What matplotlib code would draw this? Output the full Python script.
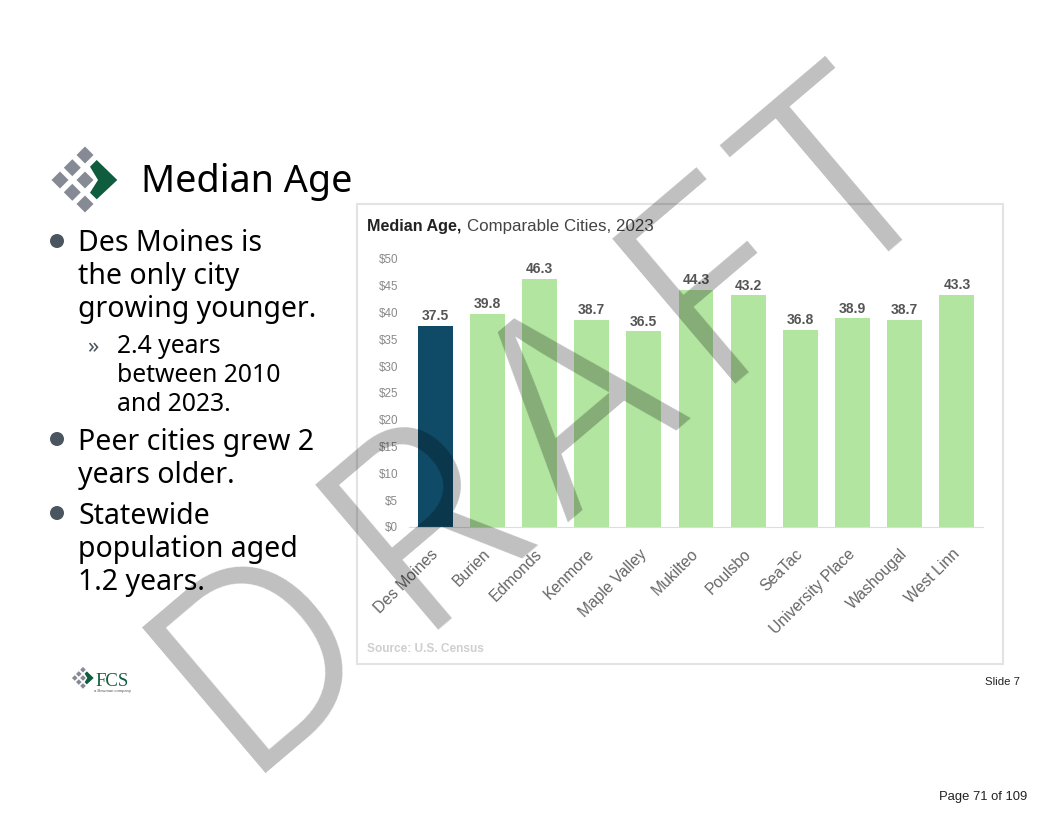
import matplotlib
matplotlib.use('Agg')
import matplotlib.pyplot as plt
from matplotlib.patches import Polygon, Rectangle, Circle
from matplotlib.transforms import ScaledTranslation

W = 1056
H = 816

cities = ['Des Moines', 'Burien', 'Edmonds', 'Kenmore', 'Maple Valley', 'Mukilteo',
          'Poulsbo', 'SeaTac', 'University Place', 'Washougal', 'West Linn']
median_age = [37.5, 39.8, 46.3, 38.7, 36.5, 44.3, 43.2, 36.8, 38.9, 38.7, 43.3]
y_ticks = [0, 5, 10, 15, 20, 25, 30, 35, 40, 45, 50]
y_labels = ['$%d' % t for t in y_ticks]

bullets = [(78, 251, 'Des Moines is'), (78, 284, 'the only city'), (78, 317, 'growing younger.'),
           (78, 450, 'Peer cities grew 2'), (78, 483, 'years older.'),
           (78, 524, 'Statewide'), (78, 557, 'population aged'), (78, 590, '1.2 years.')]
sub_bullets = [(117, 353, '2.4 years'), (117, 382, 'between 2010'), (117, 411, 'and 2023.')]
bullet_dots = [241, 439, 513]
# watermark letters and where each one starts
draft_letters = [('D', 241, 773), ('R', 414, 630), ('A', 561, 522), ('F', 711, 384), ('T', 829, 291)]

LEFT_FONT = 'Noto Sans'
CHART_FONT = 'Liberation Sans'
GREEN = '#b2e5a0'
NAVY = '#0f4a66'
LOGO_GREY = '#868a94'
LOGO_GREEN = '#0f5c3f'


def drawLogo(ax, ox, oy, s):
    # ox, oy is the middle of the logo, s the scale
    centers = [(0, -25), (-12.7, -12.3), (-25, 0), (0, 0), (-12.7, 12.3), (0, 24)]
    d = 8.5
    for cx, cy in centers:
        pts = [(cx, cy - d), (cx + d, cy), (cx, cy + d), (cx - d, cy)]
        ax.add_patch(Polygon([(ox + s * a, oy + s * b) for a, b in pts], color=LOGO_GREY, lw=0))
    chevron = [(11.7, -20), (32.3, 0), (11.7, 19.3), (5, 12.7), (13, 0), (5, -13.3)]
    ax.add_patch(Polygon([(ox + s * a, oy + s * b) for a, b in chevron], color=LOGO_GREEN, lw=0))


fig = plt.figure(figsize=(W / 100, H / 100), dpi=100, facecolor='white')

# page layer in pixel coordinates
page = fig.add_axes([0, 0, 1, 1], zorder=0)
page.set_xlim(0, W)
page.set_ylim(H, 0)
page.axis('off')

page.add_patch(Rectangle((357, 204), 646, 460, fill=False, ec='#e3e3e3', lw=1.5))

drawLogo(page, 85, 180, 1.0)
page.text(141, 192, 'Median Age', family=LEFT_FONT, fontsize=27.2, color='black', va='baseline')

for y in bullet_dots:
    page.add_patch(Circle((57, y), 7, color='#4a5560', lw=0))
for x, y, s in bullets:
    page.text(x, y, s, family=LEFT_FONT, fontsize=20.5, color='black', va='baseline')
page.text(87, 353, '\u00bb', family=LEFT_FONT, fontsize=16, color='#4a5560', va='baseline')
for x, y, s in sub_bullets:
    page.text(x, y, s, family=LEFT_FONT, fontsize=17.8, color='black', va='baseline')

drawLogo(page, 83, 678, 0.33)
page.text(95, 686, 'FCS', family='Liberation Serif', fontsize=13.5, color=LOGO_GREEN, va='baseline')
page.text(94, 692, 'a Bowman company', family=CHART_FONT, fontsize=3, color='#555555', va='baseline')

page.text(985, 685, 'Slide 7', family=CHART_FONT, fontsize=8.2, color='#222222', va='baseline')
page.text(939, 800, 'Page 71 of 109', family=CHART_FONT, fontsize=9.4, color='#222222', va='baseline')

page.text(367, 231, 'Median Age,', family=CHART_FONT, fontsize=11.6, fontweight='bold',
          color='#222222', va='baseline')
page.text(467, 231, 'Comparable Cities, 2023', family=CHART_FONT, fontsize=12.2,
          color='#444444', va='baseline')
page.text(367, 652, 'Source: U.S. Census', family=CHART_FONT, fontsize=8.6, fontweight='bold',
          color='#cfcfcf', va='baseline')

# the chart itself
ax = fig.add_axes([409 / W, 1 - 527 / H, 574 / W, 268 / H], zorder=1)
ax.patch.set_alpha(0)
colors = [NAVY] + [GREEN] * (len(cities) - 1)
xs = list(range(len(cities)))
bars = ax.bar(xs, median_age, width=0.67, color=colors)
ax.bar_label(bars, labels=['%.1f' % v for v in median_age], padding=2, family=CHART_FONT,
             fontsize=10, fontweight='bold', color='#555555')
ax.set_xlim(-0.5, len(cities) - 0.5)
ax.set_ylim(0, 50)
ax.set_yticks(y_ticks)
ax.set_yticklabels(y_labels, family=CHART_FONT, fontsize=8.4, color='#8a8a8a')
ax.set_xticks(xs)
ax.set_xticklabels(cities, rotation=45, ha='right', rotation_mode='anchor', family=CHART_FONT,
                   fontsize=11.3, color='#666666')
ax.tick_params(axis='both', length=0)
ax.tick_params(axis='y', pad=8)
ax.tick_params(axis='x', pad=14)
shift = ScaledTranslation(-5 / 100, 0, fig.dpi_scale_trans)
for lab in ax.get_xticklabels():
    lab.set_transform(lab.get_transform() + shift)
for side in ['top', 'right', 'left']:
    ax.spines[side].set_visible(False)
ax.spines['bottom'].set_color('#dddddd')

# watermark on top of everything
over = fig.add_axes([0, 0, 1, 1], zorder=2)
over.set_xlim(0, W)
over.set_ylim(H, 0)
over.axis('off')
for letter, x, y in draft_letters:
    over.text(x, y, letter, family='Inter', fontweight=300, fontsize=188, rotation=40.3,
              rotation_mode='anchor', ha='left', va='baseline', color='black', alpha=0.25)

plt.savefig('out.png', dpi=100)
